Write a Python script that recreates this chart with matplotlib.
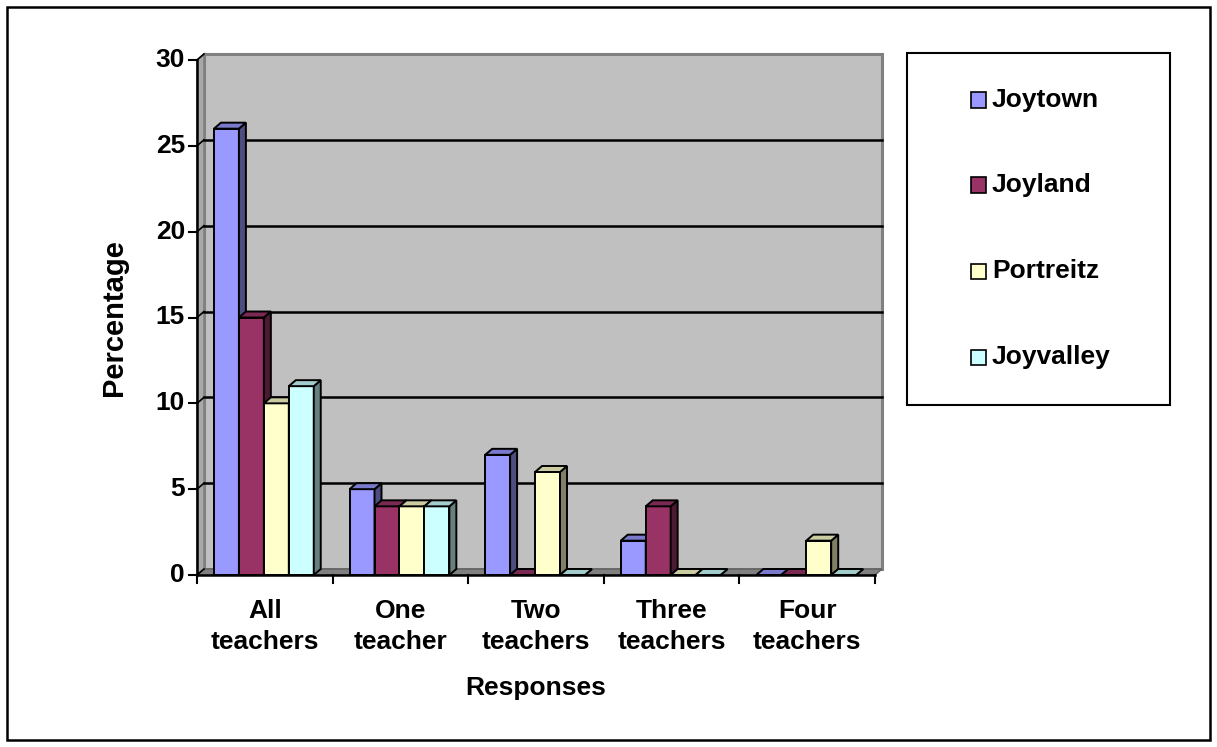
import matplotlib
matplotlib.use("Agg")
import matplotlib.pyplot as plt
from matplotlib.patches import Polygon, Rectangle
from matplotlib.colors import to_rgb

plt.rcParams['font.family'] = ['Liberation Sans', 'DejaVu Sans']
plt.rcParams['font.weight'] = 'bold'

categories = ["All\nteachers", "One\nteacher", "Two\nteachers", "Three\nteachers", "Four\nteachers"]
series = ["Joytown", "Joyland", "Portreitz", "Joyvalley"]
joytown = [26, 5, 7, 2, 0]
joyland = [15, 4, 0, 4, 0]
portreitz = [10, 4, 6, 0, 2]
joyvalley = [11, 4, 0, 0, 0]
values = [joytown, joyland, portreitz, joyvalley]
colors = ["#9999FF", "#993366", "#FFFFCC", "#CCFFFF"]
yticks = [0, 5, 10, 15, 20, 25, 30]

W, H = 1217, 747
FS = 19
fig = plt.figure(figsize=(W / 100, H / 100), dpi=100)

# outer frame
fig.patches.append(Rectangle((7 / W, 7 / H), 1203 / W, 733 / H, transform=fig.transFigure,
                             fill=False, ec="black", lw=1.8))

# front plane of the plot area, in pixels
L, R, B, T = 197, 875, 575, 60
ax = fig.add_axes([L / W, 1 - B / H, (R - L) / W, (B - T) / H])
ax.set_xlim(0, len(categories)); ax.set_ylim(0, 30)
ax.axis("off")

# depth of the 3-D look, converted to data units
DX = 7 * len(categories) / (R - L)
DY = 6 * 30 / (B - T)
n = len(categories)

def shade(c, f):
    r, g, b = to_rgb(c)
    return (r * f, g * f, b * f)

def poly(pts, fc, ec="black", lw=1.4, z=3, clip=False):
    ax.add_patch(Polygon(pts, closed=True, fc=fc, ec=ec, lw=lw, zorder=z, clip_on=clip,
                         joinstyle="miter"))

# back wall, side wall, floor
ax.add_patch(Rectangle((DX, DY), n, 30, fc="#C0C0C0", ec="#808080", lw=2.2, zorder=0, clip_on=False))
poly([(0, 0), (DX, DY), (DX, 30 + DY), (0, 30)], "#A8A8A8", ec="#808080", lw=1.2, z=0)
poly([(0, 0), (n, 0), (n + DX, DY), (DX, DY)], "#808080", ec="#606060", lw=1.0, z=0)

# gridlines on the back wall plus the little connectors across the side wall
for v in yticks[1:-1]:
    ax.plot([DX, n + DX], [v + DY, v + DY], color="black", lw=1.8, zorder=1, clip_on=False)
for v in yticks:
    ax.plot([0, DX], [v, v + DY], color="black", lw=1.2, zorder=1, clip_on=False)

# bars
w = 0.184
off = 0.125
for i in range(n):
    for j, (vals, c) in enumerate(zip(values, colors)):
        x0 = i + off + j * w
        h = vals[i]
        ax.bar(x0, h, width=w, align="edge", color=c, edgecolor="black", linewidth=1.4, zorder=3)
        poly([(x0 + w, 0), (x0 + w + DX, DY), (x0 + w + DX, h + DY), (x0 + w, h)], shade(c, 0.5))
        poly([(x0, h), (x0 + w, h), (x0 + w + DX, h + DY), (x0 + DX, h + DY)], shade(c, 0.8))

# axis lines and ticks
ax.plot([0, 0], [0, 30], color="black", lw=1.8, zorder=5, clip_on=False)
ax.plot([0, n], [0, 0], color="black", lw=1.8, zorder=5, clip_on=False)
tx = 8 * n / (R - L)
ty = 8 * 30 / (B - T)
for v in yticks:
    ax.plot([-tx, 0], [v, v], color="black", lw=1.5, clip_on=False)
    ax.text(-tx - 0.03, v, str(v), ha="right", va="center", fontsize=FS, fontweight="bold")
for i in range(n + 1):
    ax.plot([i, i], [0, -ty], color="black", lw=1.5, clip_on=False)
for i, lab in enumerate(categories):
    ax.text(i + 0.5, -1.4, lab, ha="center", va="top", fontsize=FS, fontweight="bold",
            linespacing=1.38)

fig.text(536 / W, 1 - 688 / H, "Responses", ha="center", va="center", fontsize=FS, fontweight="bold")
fig.text(114 / W, 1 - 318 / H, "Percentage", ha="center", va="center", rotation=90,
         fontsize=21, fontweight="bold")

# legend
fig.patches.append(Rectangle((907 / W, 1 - 405 / H), 263 / W, 352 / H, transform=fig.transFigure,
                             fill=False, ec="black", lw=1.5))
for k, (name, c) in enumerate(zip(series, colors)):
    yc = [100, 185, 271, 357][k]
    fig.patches.append(Rectangle((971 / W, 1 - (yc + 7.5) / H), 15 / W, 15 / H,
                                 transform=fig.transFigure, fc=c, ec="black", lw=1.2))
    fig.text(992 / W, 1 - yc / H, name, ha="left", va="center", fontsize=FS, fontweight="bold")

fig.savefig("out.png", dpi=100)
